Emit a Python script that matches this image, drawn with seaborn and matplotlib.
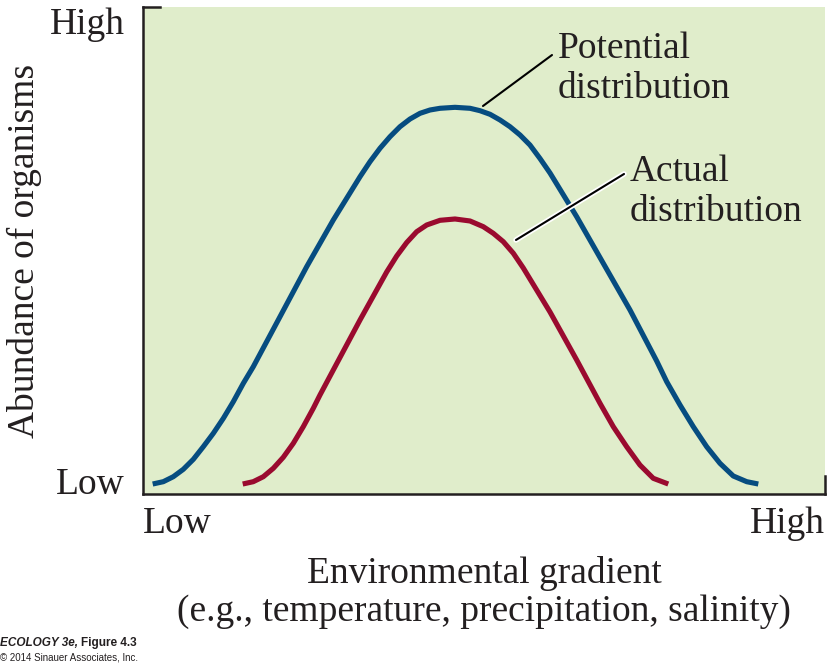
import numpy as np
import pandas as pd
import matplotlib
matplotlib.use("Agg")
import matplotlib.pyplot as plt
import matplotlib.patheffects as pe
import seaborn as sns

# ----------------------------------------------
# values (gradient 0-100, abundance 0-100)
potential_x = [1.42, 2.98, 4.44, 5.91, 7.38, 8.84, 10.31, 11.78, 13.24, 14.71,
               16.17, 20.09, 24.00, 27.90, 31.82, 33.28, 34.75, 36.22, 37.68,
               39.15, 40.62, 42.08, 43.55, 45.75, 47.95, 49.41, 50.88, 52.35,
               53.81, 55.28, 56.74, 58.21, 59.68, 60.89, 63.59, 67.49, 71.41,
               75.32, 76.79, 78.74, 80.69, 82.65, 84.60, 86.55, 88.52, 90.22]
potential_y = [2.05, 2.53, 3.55, 5.07, 7.12, 9.71, 12.46, 15.54, 18.95, 22.73,
               26.14, 36.41, 46.67, 56.26, 65.15, 68.23, 70.99, 73.37, 75.42,
               77.00, 78.17, 78.85, 79.20, 79.40, 79.20, 78.71, 77.97, 76.80,
               75.42, 73.72, 71.66, 68.89, 65.91, 63.14, 56.94, 47.37, 37.78,
               27.31, 23.06, 18.28, 13.82, 9.71, 6.30, 3.70, 2.53, 2.05]

actual_x = [14.62, 16.17, 17.64, 19.11, 20.57, 22.04, 23.50, 24.97, 25.95,
            27.90, 31.82, 35.73, 37.20, 38.67, 40.13, 41.60, 43.55, 45.75,
            47.95, 49.90, 51.36, 52.83, 54.30, 55.76, 59.68, 63.59, 67.01,
            68.96, 70.92, 72.87, 74.82, 77.02]
actual_y = [2.05, 2.53, 3.55, 5.28, 7.54, 10.41, 13.82, 17.60, 20.33,
            25.46, 35.73, 45.59, 48.87, 51.64, 53.86, 55.24, 56.20, 56.47,
            56.06, 54.89, 53.53, 51.81, 49.43, 46.41, 37.37, 27.52, 18.62,
            13.82, 9.71, 5.95, 3.22, 2.05]

axis_ticks = [0, 100]
y_tick_labels = ["Low", "High"]
x_tick_labels = ["Low", "High"]

# ----------------------------------------------
sns.set_style("white")
plt.rcParams["font.family"] = ["Liberation Serif", "DejaVu Serif"]

BG = "#E0EDCB"
BLUE = "#064C80"
RED = "#9A0A2F"
INK = "#231F20"
FS = 27

fig = plt.figure(figsize=(8.33, 6.64), dpi=100)
ax = fig.add_axes([143 / 833, 1 - 494 / 664, 682 / 833, 487 / 664])
ax.set_facecolor(BG)

df_pot = pd.DataFrame({"x": potential_x, "y": potential_y})
df_act = pd.DataFrame({"x": actual_x, "y": actual_y})
sns.lineplot(data=df_pot, x="x", y="y", sort=False, estimator=None,
             color=BLUE, linewidth=3.7, ax=ax, solid_capstyle="butt",
             solid_joinstyle="round")
sns.lineplot(data=df_act, x="x", y="y", sort=False, estimator=None,
             color=RED, linewidth=3.7, ax=ax, solid_capstyle="butt",
             solid_joinstyle="round")

ax.set_xlim(0, 100)
ax.set_ylim(0, 100)

for s in ["top", "right"]:
    ax.spines[s].set_visible(False)
for s in ["left", "bottom"]:
    ax.spines[s].set_color(INK)
    ax.spines[s].set_linewidth(1.8)

# small corner ticks (top-left and bottom-right)
ax.plot([0, 0.025], [1, 1], transform=ax.transAxes, color=INK, lw=1.8,
        clip_on=False, solid_capstyle="projecting")
ax.plot([1, 1], [0, 0.037], transform=ax.transAxes, color=INK, lw=1.8,
        clip_on=False, solid_capstyle="projecting")

ax.set_yticks(axis_ticks)
ax.set_yticklabels(y_tick_labels, fontsize=FS, color=INK)
ax.set_xticks(axis_ticks)
ax.set_xticklabels(x_tick_labels, fontsize=FS, color=INK)
ax.tick_params(axis="both", length=0)
ax.tick_params(axis="y", pad=13)
ax.tick_params(axis="x", pad=9)
ylabs = ax.get_yticklabels()
ylabs[0].set_va("baseline")
ylabs[1].set_va("top")
xlabs = ax.get_xticklabels()
xlabs[0].set_ha("left")
xlabs[1].set_ha("right")

ax.set_ylabel("Abundance of organisms", fontsize=FS, color=INK, labelpad=6)
ax.set_xlabel("Environmental gradient\n(e.g., temperature, precipitation, salinity)",
              fontsize=FS, color=INK, labelpad=11, linespacing=1.1)

# leader lines and labels
ax.annotate("", xy=(49.85, 79.67), xytext=(59.97, 90.14),
            arrowprops=dict(arrowstyle="-", color="black", lw=1.5,
                            shrinkA=0, shrinkB=0))
ax.text(60.85, 87.3, "Potential\ndistribution", fontsize=FS, color=INK,
        ha="left", va="center", linespacing=1.2)

halo = [pe.withStroke(linewidth=4, foreground="white")]
ann = ax.annotate("", xy=(54.69, 52.16), xytext=(70.53, 65.71),
                  arrowprops=dict(arrowstyle="-", color="black", lw=1.5,
                                  shrinkA=0, shrinkB=0))
ann.arrow_patch.set_path_effects(halo)
ax.text(71.4, 62.0, "Actual\ndistribution", fontsize=FS, color=INK,
        ha="left", va="center", linespacing=1.2)

# credit line
t1 = fig.text(0.0, 1 - 643 / 664, "ECOLOGY 3e,", fontsize=8.5, fontweight="bold",
              fontstyle="italic", family="Liberation Sans", color=INK, va="center")
fig.canvas.draw()
bb = t1.get_window_extent(renderer=fig.canvas.get_renderer())
fig.text(bb.x1 / fig.bbox.width + 0.004, 1 - 643 / 664, "Figure 4.3", fontsize=8.5,
         fontweight="bold", family="Liberation Sans", color=INK, va="center")
fig.text(0.0, 1 - 658 / 664, "\u00a9 2014 Sinauer Associates, Inc.", fontsize=7,
         family="Liberation Sans", color=INK, va="center")

fig.savefig("out.png", dpi=100)
